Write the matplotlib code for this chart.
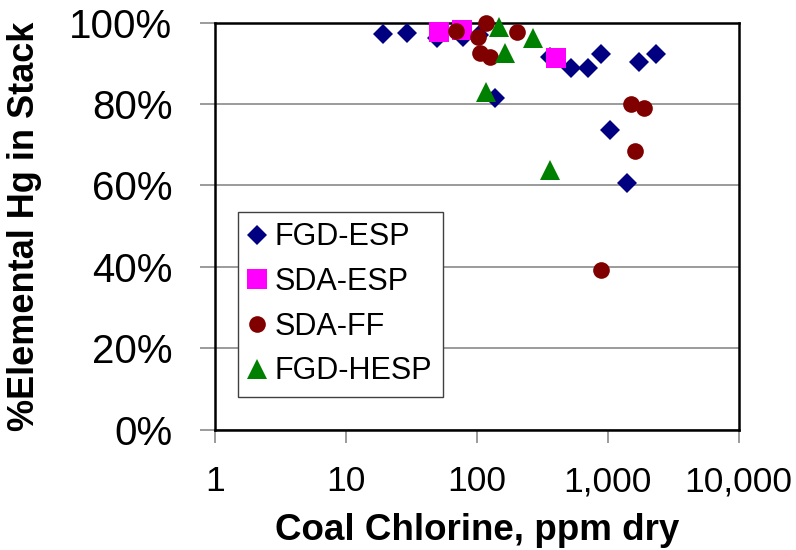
import matplotlib
matplotlib.use("Agg")
import matplotlib.pyplot as plt
from matplotlib.ticker import FixedLocator, FuncFormatter, NullLocator

plt.rcParams['font.family'] = ['Liberation Sans', 'DejaVu Sans']

# Coal chlorine (ppm dry) and % elemental Hg in stack, by control configuration
fgd_esp_cl = [19.3, 29.4, 49.5, 79, 105, 138, 363, 527, 703, 889, 1726, 2323, 1048, 1414]
fgd_esp_hg = [97.2, 97.5, 96.2, 96.6, 97.0, 81.4, 91.6, 88.8, 88.8, 92.2, 90.3, 92.2, 73.6, 60.7]

sda_esp_cl = [51.6, 76.8, 401]
sda_esp_hg = [97.6, 98.2, 91.3]

sda_ff_cl = [69.5, 118, 103, 106, 126, 202, 1507, 1902, 1617, 889]
sda_ff_hg = [98.0, 100.0, 96.4, 92.6, 91.6, 97.6, 80.0, 79.1, 68.5, 39.2]

fgd_hesp_cl = [149, 270, 164, 118, 363]
fgd_hesp_hg = [99.0, 96.3, 92.6, 82.9, 63.9]

x_ticks = [1, 10, 100, 1000, 10000]
x_tick_labels = ["1", "10", "100", "1,000", "10,000"]
y_ticks = [0, 20, 40, 60, 80, 100]

fig = plt.figure(figsize=(7.96, 5.50), dpi=100)
ax = fig.add_axes([214.7 / 796, (550 - 429.7) / 550, 524 / 796, 407 / 550])

series = [
    ("FGD-ESP", fgd_esp_cl, fgd_esp_hg, "D", "#000080", 10.5),
    ("SDA-ESP", sda_esp_cl, sda_esp_hg, "s", "#FF00FF", 15),
    ("SDA-FF", sda_ff_cl, sda_ff_hg, "o", "#800000", 12),
    ("FGD-HESP", fgd_hesp_cl, fgd_hesp_hg, "^", "#008000", 15),
]
for name, xs, ys, mk, col, ms in series:
    ax.plot(xs, ys, linestyle="none", marker=mk, color=col, markersize=ms,
            markeredgewidth=0, label=name, zorder=3, clip_on=False)

ax.set_xscale("log")
ax.set_xlim(1, 10000)
ax.set_ylim(0, 100)
ax.xaxis.set_major_locator(FixedLocator(x_ticks))
ax.xaxis.set_minor_locator(NullLocator())
ax.set_xticklabels(x_tick_labels)
ax.set_yticks(y_ticks)
ax.yaxis.set_major_formatter(FuncFormatter(lambda v, p: f"{v:.0f}%"))

ax.yaxis.grid(True, color="#808080", linewidth=1.1)
ax.set_axisbelow(True)

for s in ax.spines.values():
    s.set_color("black")
    s.set_linewidth(1.8)

ax.tick_params(axis="x", which="major", direction="out", length=9, width=1.1,
               color="#808080", labelsize=25.5, pad=16.5)
ax.tick_params(axis="y", which="major", direction="out", length=10.5, width=1.1,
               color="#808080", labelsize=29, pad=20)

ax.set_xlabel("Coal Chlorine, ppm dry", fontsize=26.5, fontweight="bold", labelpad=11)
ax.set_ylabel("%Elemental Hg in Stack", fontsize=26, fontweight="bold")
ax.yaxis.set_label_coords((42 - 214.7) / 524, 0.5)

leg = fig.legend(loc="upper left", bbox_to_anchor=(237.7 / 796, 1 - 211.7 / 550),
                 fontsize=22, frameon=True, fancybox=False, shadow=False,
                 handlelength=0.55, handletextpad=0.3, borderpad=0.35,
                 labelspacing=0.48, borderaxespad=0, numpoints=1)
leg.get_frame().set_edgecolor("#404040")
leg.get_frame().set_linewidth(1.0)
leg.get_frame().set_facecolor("white")
leg.get_frame().set_alpha(1)

fig.savefig("out.png", dpi=100)
